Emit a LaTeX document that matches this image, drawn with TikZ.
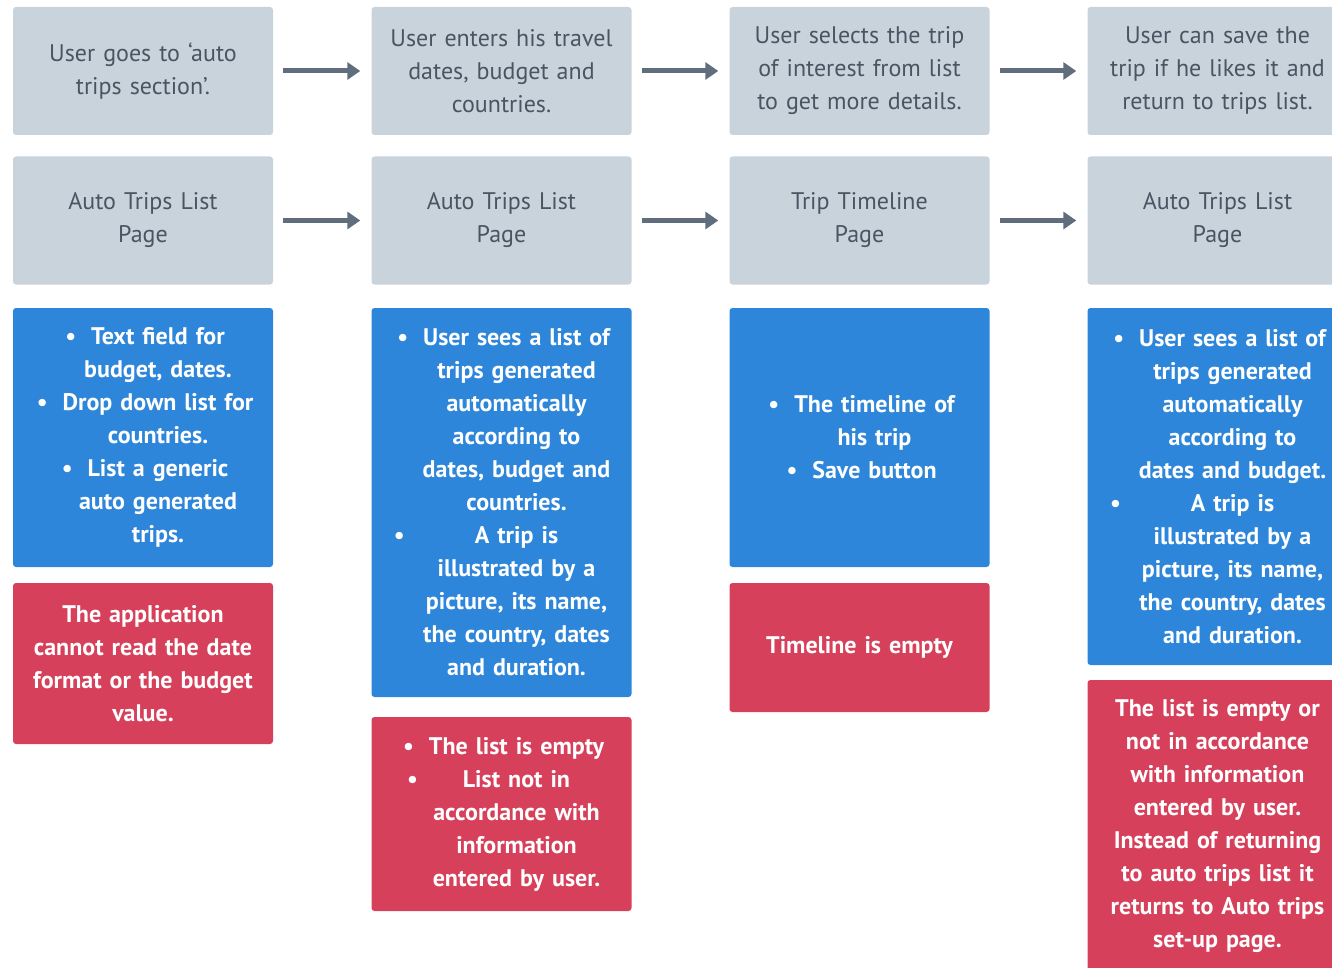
\documentclass[tikz,border=0pt]{standalone}
\usepackage{fontspec}
\setmainfont{PT Sans}
\usetikzlibrary{arrows.meta,positioning}
\definecolor{boxgrey}{HTML}{C9D3DC}
\definecolor{textgrey}{HTML}{4A5563}
\definecolor{boxblue}{HTML}{2D86D9}
\definecolor{boxred}{HTML}{D6405A}
\definecolor{arrowgrey}{HTML}{5F6D7C}
\newcommand{\itm}{\leavevmode\llap{\textbullet\hspace{15pt}}}
\newcommand{\farbullet}[1]{\leavevmode\llap{\textbullet\hspace{#1}}}
\newcommand{\listshift}{\leftskip=30pt plus 1fil\rightskip=0pt plus 1fil}
\tikzstyle{card} = [rectangle, rounded corners=3pt, inner sep=0pt, minimum width=260pt, text width=250pt, align=center, font=\fontsize{24}{33}\selectfont]
\tikzstyle{stepbox} = [card, fill=boxgrey, text=textgrey, minimum height=128pt]
\tikzstyle{featbox} = [card, fill=boxblue, text=white, font=\fontsize{24}{33}\selectfont\bfseries]
\tikzstyle{errbox} = [card, fill=boxred, text=white, font=\fontsize{24}{33}\selectfont\bfseries]
\tikzstyle{flow} = [draw=arrowgrey, line width=5pt, shorten <=10pt, shorten >=11pt, -{Triangle[length=13pt,width=17pt]}]

\begin{document}
\begin{tikzpicture}[x=1pt, y=-1pt]
    \useasboundingbox (0,0) rectangle (1332,968);
    \clip (0,0) rectangle (1332,968);
    % Draw the steps.
    \node [stepbox] (step1) at ( 143, 71) {User goes to `auto\\trips section'.};
    \node [stepbox] (step2) at (501.5, 71) {User enters his travel\\dates, budget and\\countries.};
    \node [stepbox] (step3) at (859.5, 71) {User selects the trip\\of interest from list\\to get more details.};
    \node [stepbox] (step4) at (1217.5, 71) {User can save the\\trip if he likes it and\\return to trips list.};
    % Draw the pages.
    \node [stepbox] (page1) at ( 143, 220.5) {Auto Trips List\\Page};
    \node [stepbox] (page2) at (501.5, 220.5) {Auto Trips List\\Page};
    \node [stepbox] (page3) at (859.5, 220.5) {Trip Timeline\\Page};
    \node [stepbox] (page4) at (1217.5, 220.5) {Auto Trips List\\Page};
    % Draw the features.
    \node [featbox, minimum height=259pt] (feat1) at ( 143, 437.5)
        {\listshift\itm Text field for\\budget, dates.\\\itm Drop down list for\\countries.\\\itm List a generic\\auto generated\\trips.\par};
    \node [featbox, minimum height=389pt] (feat2) at (501.5, 502.5)
        {\listshift\itm User sees a list of\\trips generated\\automatically\\according to\\dates, budget and\\countries.\\\farbullet{70pt}A trip is\\illustrated by a\\picture, its name,\\the country, dates\\and duration.\par};
    \node [featbox, minimum height=259pt] (feat3) at (859.5, 437.5)
        {\listshift\itm The timeline of\\his trip\\\itm Save button\par};
    \node [featbox, minimum height=357pt] (feat4) at (1217.5, 486.5)
        {\listshift\itm User sees a list of\\trips generated\\automatically\\according to\\dates and budget.\\\farbullet{70pt}A trip is\\illustrated by a\\picture, its name,\\the country, dates\\and duration.\par};
    % Draw the errors.
    \node [errbox, minimum height=161pt] (err1) at ( 143, 663.5)
        {The application\\cannot read the date\\format or the budget\\value.};
    \node [errbox, minimum height=194pt] (err2) at (501.5, 814)
        {\listshift\itm The list is empty\\\farbullet{45pt}List not in\\accordance with\\information\\entered by user.\par};
    \node [errbox, minimum height=129pt] (err3) at (859.5, 647.5)
        {Timeline is empty};
    \node [errbox, minimum height=292pt] (err4) at (1217.5, 826)
        {The list is empty or\\not in accordance\\with information\\entered by user.\\Instead of returning\\to auto trips list it\\returns to Auto trips\\set-up page.};
    % Steps -> next steps.
    \path [flow] (step1) -- (step2);
    \path [flow] (step2) -- (step3);
    \path [flow] (step3) -- (step4);
    % Pages -> next pages.
    \path [flow] (page1) -- (page2);
    \path [flow] (page2) -- (page3);
    \path [flow] (page3) -- (page4);
\end{tikzpicture}
\end{document}
